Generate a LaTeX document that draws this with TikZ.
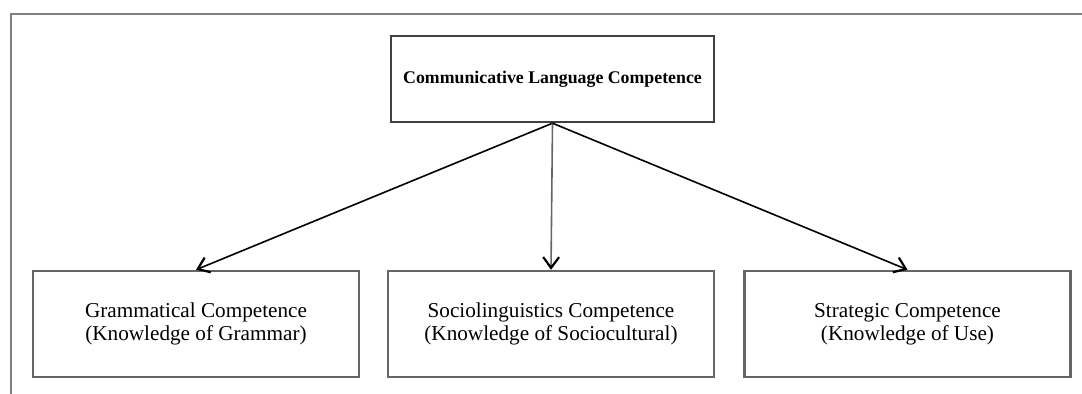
\documentclass[tikz,border=0pt]{standalone}
\usepackage{fontspec}
\setmainfont{Liberation Serif}
\usepackage{tikz}
\usetikzlibrary{arrows.meta,positioning}
\newcommand{\CompBox}[3]{%
  \node[draw=black!60, line width=1.25pt, align=center, minimum width=163pt, minimum height=53pt,
        font=\fontsize{10.6}{11.6}\selectfont] (#1) at (#2) {#3};
}

\begin{document}
\begin{tikzpicture}[x=0.5pt, y=-0.5pt]
  \useasboundingbox (0,0) rectangle (1082,394);
  \draw[black!50, line width=1.4pt] (1082,14) -- (11,14) -- (11,394);
  \node[draw=black!75, line width=1.2pt, minimum width=161.5pt, minimum height=43pt,
        font=\fontsize{8.9}{10}\selectfont\bfseries] (clc) at (552.5,79) {Communicative Language Competence};
  \CompBox{gram}{196,324}{Grammatical Competence\\(Knowledge of Grammar)}
  \CompBox{socio}{551,324}{Sociolinguistics Competence\\(Knowledge of Sociocultural)}
  \CompBox{strat}{907.5,324}{Strategic Competence\\(Knowledge of Use)}
  \draw[-{Straight Barb[length=1.9mm,width=2.8mm,line width=1.1pt]}, line width=0.8pt] (clc.south) -- (gram.north);
  \draw[-{Straight Barb[length=1.9mm,width=2.8mm,line width=1.1pt,color=black]}, line width=0.8pt, black!60] (clc.south) -- (socio.north);
  \draw[-{Straight Barb[length=1.9mm,width=2.8mm,line width=1.1pt]}, line width=0.8pt] (clc.south) -- (strat.north);
\end{tikzpicture}
\end{document}
